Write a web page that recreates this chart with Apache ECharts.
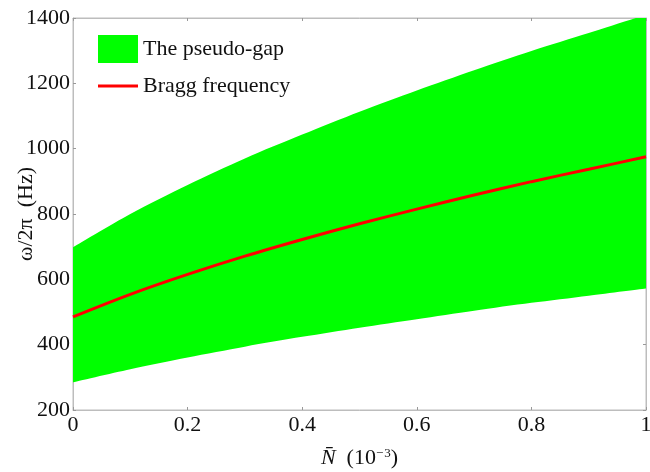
<!DOCTYPE html>
<html>
<head>
<meta charset="utf-8">
<script src="https://cdn.jsdelivr.net/npm/echarts@6/dist/echarts.min.js"></script>
<style>
  html, body { margin: 0; padding: 0; background: #fff; }
  #chart { width: 650px; height: 472px; }
</style>
</head>
<body>
<div id="chart"></div>
<script>
// N-bar values (10^-3)
const nBar = ['0', '0.1', '0.2', '0.3', '0.4', '0.5', '0.6', '0.7', '0.8', '0.9', '1'];
// pseudo-gap edges (Hz)
const gapLower = [285, 325, 361, 394, 424, 452, 478, 504, 528, 550, 572];
const gapUpper = [698, 800, 889, 970, 1043, 1113, 1178, 1240, 1299, 1354, 1410];
// Bragg frequency (Hz)
const bragg = [485, 554, 615, 671, 722, 770, 815, 858, 899, 937, 975];

const yTicks = [200, 400, 600, 800, 1000, 1200, 1400];

const FONT = 'Liberation Serif';
const axisGrey = '#bdbdbd';

const chart = echarts.init(document.getElementById('chart'));

const tick = { show: true, inside: true, length: 3, lineStyle: { color: '#999' } };
const line = { show: true, lineStyle: { color: axisGrey, width: 1 } };

const option = {
  animation: false,
  backgroundColor: '#fff',
  grid: {
    left: 73, right: 4, top: 18, bottom: 62,
    outerBoundsMode: 'none',
    containLabel: false,
    show: true, borderColor: axisGrey, borderWidth: 1
  },
  legend: [
    {
      data: [{ name: 'The pseudo-gap', icon: 'rect' }],
      left: 93, top: 30,
      itemWidth: 40, itemHeight: 28,
      textStyle: { fontFamily: FONT, fontSize: 22, color: '#111' }
    },
    {
      data: [{ name: 'Bragg frequency', icon: 'rect' }],
      left: 93, top: 70,
      itemWidth: 40, itemHeight: 3,
      textStyle: { fontFamily: FONT, fontSize: 22, color: '#111' }
    }
  ],
  xAxis: [
    {
      type: 'category',
      data: nBar,
      boundaryGap: false,
      position: 'bottom',
      axisLine: line,
      axisTick: Object.assign({}, tick, { interval: 1 }),
      splitLine: { show: false },
      axisLabel: {
        interval: 1,
        fontFamily: FONT, fontSize: 22, color: '#111', margin: 4
      },
      name: '{n|N\u0304}{t|  (10}{s|\u2212\u200a3}{t|)}',
      nameLocation: 'middle',
      nameGap: 37,
      nameMoveOverlap: false,
      nameTextStyle: {
        rich: {
          n: { fontFamily: FONT, fontSize: 22, fontStyle: 'italic', color: '#111' },
          t: { fontFamily: FONT, fontSize: 22, color: '#111' },
          s: { fontFamily: FONT, fontSize: 13, color: '#111', verticalAlign: 'top' }
        }
      }
    },
    {
      type: 'category',
      data: nBar,
      boundaryGap: false,
      position: 'top',
      axisLine: line,
      axisTick: Object.assign({}, tick, { interval: 1 }),
      axisLabel: { show: false },
      splitLine: { show: false }
    }
  ],
  yAxis: [
    {
      type: 'value',
      min: yTicks[0], max: yTicks[yTicks.length - 1], interval: 200,
      position: 'left',
      axisLine: line, axisTick: tick, splitLine: { show: false },
      name: '\u03c9/2\u03c0  (Hz)',
      nameLocation: 'middle',
      nameGap: 36,
      nameMoveOverlap: false,
      nameTextStyle: { fontFamily: FONT, fontSize: 22, color: '#111' },
      axisLabel: { fontFamily: FONT, fontSize: 22, color: '#111', margin: 3, formatter: v => String(v) }
    },
    {
      type: 'value',
      min: yTicks[0], max: yTicks[yTicks.length - 1], interval: 200,
      position: 'right',
      axisLine: line, axisTick: tick, splitLine: { show: false },
      axisLabel: { show: false }
    }
  ],
  series: [
    {
      name: 'gapBase',
      type: 'line',
      stack: 'gap',
      data: gapLower,
      symbol: 'none',
      lineStyle: { width: 0, opacity: 0 },
      smooth: 0.3,
      silent: true
    },
    {
      name: 'The pseudo-gap',
      type: 'line',
      stack: 'gap',
      data: gapUpper.map((u, i) => u - gapLower[i]),
      symbol: 'none',
      itemStyle: { color: '#00ff00' },
      lineStyle: { width: 0 },
      areaStyle: { color: '#00ff00', opacity: 1 },
      smooth: 0.3
    },
    {
      name: 'Bragg frequency',
      type: 'line',
      data: bragg,
      symbol: 'none',
      itemStyle: { color: '#ff0000' },
      lineStyle: { color: '#ff0000', width: 3 },
      smooth: 0.3,
      z: 5
    }
  ]
};

chart.setOption(option);
</script>
</body>
</html>
